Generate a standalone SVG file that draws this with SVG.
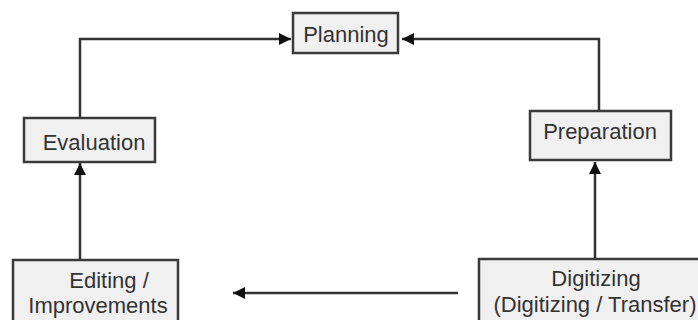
<svg xmlns="http://www.w3.org/2000/svg" width="698" height="320" viewBox="0 0 698 320">
  <style>
    .box { fill: #f0f0f0; stroke: #3a3a3a; stroke-width: 2.5; }
    .lbl { font-family: "Liberation Sans", Arial, sans-serif; font-size: 22px; fill: #333333; }
    .conn { fill: none; stroke: #333333; stroke-width: 2.5; }
  </style>
  <defs>
    <marker id="arrow" viewBox="0 0 12 12" refX="12" refY="6" markerWidth="13" markerHeight="12" markerUnits="userSpaceOnUse" orient="auto">
      <path d="M0,0 L12,6 L0,12 z" fill="#111111"/>
    </marker>
  </defs>
  <rect width="698" height="320" fill="#ffffff"/>

  <g id="connectors">
    <path class="conn" d="M80,118 V39 H291" marker-end="url(#arrow)"/>
    <path class="conn" d="M599,111 V39 H402" marker-end="url(#arrow)"/>
    <path class="conn" d="M80,260 V163" marker-end="url(#arrow)"/>
    <path class="conn" d="M595,259 V162" marker-end="url(#arrow)"/>
    <path class="conn" d="M458,293 H233" marker-end="url(#arrow)"/>
  </g>

  <g id="planning">
    <rect class="box" x="293" y="13" width="105" height="40"/>
    <text class="lbl" x="346" y="42" text-anchor="middle">Planning</text>
  </g>

  <g id="evaluation">
    <rect class="box" x="24" y="118" width="131" height="44"/>
    <text class="lbl" x="94" y="150" text-anchor="middle">Evaluation</text>
  </g>

  <g id="preparation">
    <rect class="box" x="530" y="111" width="141" height="49"/>
    <text class="lbl" x="600" y="139" text-anchor="middle">Preparation</text>
  </g>

  <g id="editing">
    <rect class="box" x="13" y="260" width="165" height="70"/>
    <text class="lbl" x="109" y="288" text-anchor="middle">Editing /</text>
    <text class="lbl" x="98" y="313" text-anchor="middle">Improvements</text>
  </g>

  <g id="digitizing">
    <rect class="box" x="479" y="259" width="240" height="70"/>
    <text class="lbl" x="596" y="286" text-anchor="middle">Digitizing</text>
    <text class="lbl" x="595" y="312" text-anchor="middle">(Digitizing / Transfer)</text>
  </g>
</svg>
